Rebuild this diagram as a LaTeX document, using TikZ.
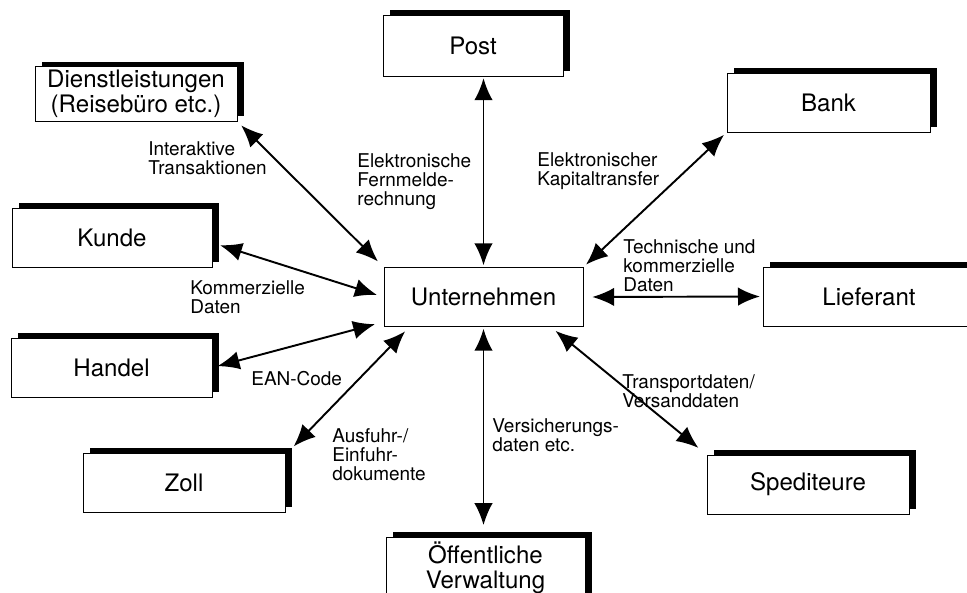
\documentclass[tikz,border=0pt]{standalone}
\usepackage{fontspec}
\setmainfont{TeX Gyre Heros}
\usetikzlibrary{arrows.meta, positioning, shadows}

\begin{document}
\begin{tikzpicture}[x=0.02cm, y=-0.02cm]
        \tikzset{
        plain/.style = {draw, line width=0.5pt, fill=white, rectangle, minimum width=4cm, minimum height=1.18cm, inner sep=2pt, align=center,
                        font=\fontsize{13.7}{14}\selectfont},
        block/.style = {plain, drop shadow={shadow xshift=4pt, shadow yshift=2.8pt, fill=black, opacity=1}},
        note/.style  = {anchor=north west, inner sep=0pt, align=left, font=\fontsize{10.8}{11}\selectfont},
        line/.style  = {line width=1.1pt, {Latex[length=12.5pt,width=10.5pt]}-{Latex[length=12.5pt,width=10.5pt]}}
        }
        \useasboundingbox (0,0) rectangle (967,592);

        % Company in the middle
        \node[plain, minimum width=3.98cm] (unter) at (483.5,297) {Unternehmen};

        % Partners
        \node[block, minimum width=3.6cm, minimum height=1.22cm] (post) at (473,45.5) {Post};
        \node[block, minimum width=4.04cm, minimum height=1.08cm] (dienst) at (136,94) {Dienstleistungen\\(Reisebüro etc.)};
        \node[block, minimum width=4.06cm] (bank) at (828.5,102.5) {Bank};
        \node[block] (kunde) at (112,237.5) {Kunde};
        \node[block, minimum width=4.24cm] (lief) at (869,296.5) {Lieferant};
        \node[block, minimum width=4.02cm] (handel) at (111.5,367.5) {Handel};
        \node[block, minimum width=4.04cm] (zoll) at (184,482.5) {Zoll};
        \node[block, minimum width=4.04cm] (spedit) at (808,484.5) {Spediteure};
        \node[block, minimum width=3.98cm, minimum height=1.24cm] (oeff) at (485.5,568) {Öffentliche\\Verwaltung};

        % Connections
        \draw[line, shorten <=1pt, shorten >=1pt] (unter.north) -- (unter.north |- post.south);
        \draw[line, shorten <=1pt, shorten >=6.5pt] (unter.south) -- (unter.south |- oeff.north);
        \draw[line, shorten <=5pt, shorten >=1.5pt] (unter.east) -- (lief.west);
        \draw[line, shorten <=4.5pt, shorten >=3pt] (unter.north west) -- (dienst.south east);
        \draw[line, shorten <=2pt, shorten >=2pt] (unter.north east) -- (bank.south west);
        \draw[line, shorten <=4pt, shorten >=4.5pt] (unter.west) -- (kunde.-3);
        \draw[line, shorten <=5pt, shorten >=3pt] (unter.194) -- (handel.east);
        \draw[line, shorten <=3.5pt, shorten >=1pt] (unter.202) -- ([shift={(4pt,2.8pt)}]zoll.north east);
        \draw[line, shorten <=3.5pt, shorten >=6pt] (unter.336) -- (spedit.north west);

        % Labels
        \node[note] (trans) at (148,141) {Interaktive\\Transaktionen};
        \node[note] (fern) at (357,153) {Elektronische\\Fernmelde-\\rechnung};
        \node[note] (kapital) at (537,152) {Elektronischer\\Kapitaltransfer};
        \node[note] (techn) at (623,239) {Technische und\\kommerzielle\\Daten};
        \node[note] (komm) at (190,280) {Kommerzielle\\Daten};
        \node[note] (ean) at (251,371) {EAN-Code};
        \node[note] (ausfuhr) at (332,428) {Ausfuhr-/\\Einfuhr-\\dokumente};
        \node[note] (versich) at (492,418) {Versicherungs-\\daten etc.};
        \node[note] (transp) at (622,374) {Transportdaten/\\Versanddaten};
    \end{tikzpicture}
\end{document}
